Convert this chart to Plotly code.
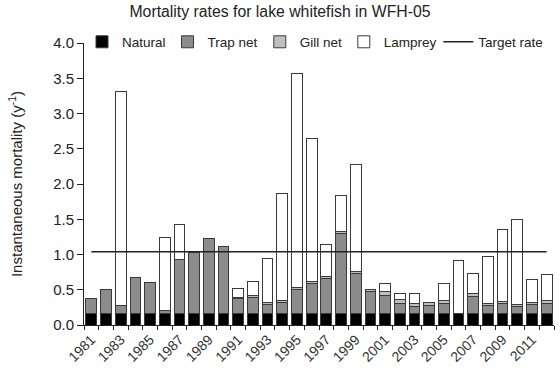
import plotly.graph_objects as go

years = list(range(1981, 2013))
natural = [0.17] * 32
trap_net = [0.21, 0.33, 0.10, 0.51, 0.44, 0.04, 0.76, 0.86, 1.05, 0.94,
            0.20, 0.22, 0.12, 0.15, 0.33, 0.42, 0.49, 1.13, 0.56, 0.30,
            0.25, 0.14, 0.09, 0.11, 0.13, 0.00, 0.24, 0.10, 0.13, 0.09,
            0.12, 0.14]
gill_net = [0, 0, 0, 0, 0, 0, 0, 0, 0, 0,
            0.02, 0.03, 0.03, 0.03, 0.03, 0.03, 0.03, 0.03, 0.03, 0.04,
            0.05, 0.05, 0.05, 0.04, 0.05, 0.00, 0.04, 0.03, 0.03, 0.03,
            0.03, 0.04]
lamprey = [0, 0, 3.04, 0, 0, 1.03, 0.49, 0, 0, 0,
           0.13, 0.20, 0.63, 1.52, 3.04, 2.03, 0.45, 0.50, 1.51, 0,
           0.12, 0.09, 0.14, 0, 0.24, 0.75, 0.28, 0.67, 1.03, 1.21,
           0.32, 0.37]
target_rate = [1.04] * 32
tick_years = list(range(1981, 2013, 2))

edge = dict(color="#3a3a3a", width=1)
fig = go.Figure()
fig.add_trace(go.Bar(x=years, y=natural, name="Natural", legend="legend",
                     marker=dict(color="#000000", line=edge)))
fig.add_trace(go.Bar(x=years, y=trap_net, name="Trap net", legend="legend2",
                     marker=dict(color="#8c8c8c", line=edge)))
fig.add_trace(go.Bar(x=years, y=gill_net, name="Gill net", legend="legend3",
                     marker=dict(color="#bfbfbf", line=edge)))
fig.add_trace(go.Bar(x=years, y=lamprey, name="Lamprey", legend="legend4",
                     marker=dict(color="#ffffff", line=edge)))
fig.add_trace(go.Scatter(x=years, y=target_rate, name="Target rate", mode="lines",
                         legend="legend5",
                         line=dict(color="#222222", width=1.4)))

def leg(xpix):
    return dict(orientation="h", x=(xpix - 84) / 470, xanchor="left",
                y=1.0035, yanchor="middle", font=dict(size=13.5),
                bgcolor="rgba(0,0,0,0)", itemwidth=30)

fig.update_layout(
    width=560, height=374,
    barmode="stack", bargap=0.27,
    plot_bgcolor="white", paper_bgcolor="white",
    font=dict(family="Liberation Sans, Arial, sans-serif", size=15, color="#222222"),
    margin=dict(l=84, r=6, t=43, b=49, autoexpand=False),
    title=dict(text="Mortality rates for lake whitefish in WFH-05",
               x=0.5, xanchor="center", y=0.968, yanchor="middle",
               font=dict(size=15.8, color="#222222")),
    legend=leg(82), legend2=leg(167.5), legend3=leg(259.8), legend4=leg(343.8),
    legend5=leg(438.3),
    showlegend=True,
)
fig.update_xaxes(range=[1980.5, 2012.5], tickmode="array", tickvals=tick_years,
                 ticktext=[str(y) for y in tick_years], tickangle=-45,
                 ticks="", showgrid=False, zeroline=False, automargin=False,
                 showline=True, linecolor="#222222", linewidth=1,
                 minor=dict(ticks="outside", tick0=0.5, dtick=1, ticklen=4,
                            tickcolor="#222222", showgrid=False),
                 tickfont=dict(size=14, color="#333333"))
fig.update_yaxes(range=[0, 4.0], dtick=0.5, tickformat=".1f",
                 ticks="outside", ticklen=6, tickcolor="#222222",
                 showgrid=False, zeroline=False, automargin=False,
                 showline=True, linecolor="#222222", linewidth=1,
                 title=dict(text="Instantaneous mortality (y<sup>-1</sup>)",
                            font=dict(size=15), standoff=26),
                 tickfont=dict(size=15))

fig.write_html("out.html", config={"displayModeBar": False},
               post_script="document.body.style.margin='0';document.body.style.padding='0';")
